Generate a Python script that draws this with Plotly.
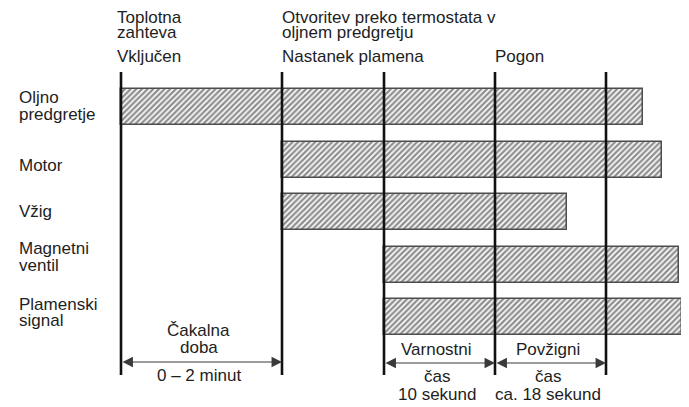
import plotly.graph_objects as go

# ---------------- data ----------------
categories = ["Oljno predgretje", "Motor", "Vžig", "Magnetni ventil", "Plamenski signal"]
category_labels = [["Oljno", "predgretje"], ["Motor"], ["Vžig"], ["Magnetni", "ventil"], ["Plamenski", "signal"]]
# schematic time units (no numeric axis in the original)
event_times = [0, 161, 263, 374, 485]
bar_start = [0, 161, 161, 263, 263]
bar_end = [522, 541, 446, 558, 561]
top_labels = [
    (["Toplotna", "zahteva", "Vključen"], 0),
    (["Otvoritev preko termostata v", "oljnem predgretju", "Nastanek plamena"], 1),
    ([None, None, "Pogon"], 3),
]
interval_labels = [
    (0, 1, ["Čakalna", "doba"], ["0 – 2 minut"]),
    (2, 3, ["Varnostni"], ["čas", "10 sekund"]),
    (3, 4, ["Povžigni"], ["čas", "ca. 18 sekund"]),
]

# ---------------- geometry helpers ----------------
W, H = 689, 407
OFF = 8           # page body margin shifts the figure by 8px
X0 = 121 - OFF    # figure pixel of time 0
ROW0, ROWSTEP = 107 - OFF, 52.6
FONT = "Liberation Sans, Arial, sans-serif"
TXT = "#1e1e1e"
FS = 17

def py(p):  # reference pixel y -> y-data (row index units)
    return (p - OFF - ROW0) / ROWSTEP

def pyp(p):  # reference pixel y -> paper
    return 1 - (p - OFF) / H

def pxp(p):  # reference pixel x -> paper
    return (p - OFF) / W

rows = list(range(len(categories)))
durations = [e - s for s, e in zip(bar_start, bar_end)]

fig = go.Figure()
fig.add_trace(go.Bar(
    y=rows, x=durations, base=bar_start, orientation="h", width=36 / ROWSTEP,
    marker=dict(color="white", line=dict(color="#4d4d4d", width=1.5),
                pattern=dict(shape="/", fgcolor="#222222", bgcolor="white", size=4, solidity=0.6)),
    hovertext=categories, hoverinfo="text",
))

shapes = []
for t in event_times:
    shapes.append(dict(type="line", xref="x", yref="y", x0=t, x1=t, y0=py(72), y1=py(375),
                       line=dict(color="#111", width=2.6)))

ann = []
def text(t, x, y, xanchor="left"):
    ann.append(dict(text=t, xref="paper", yref="paper", x=pxp(x), y=pyp(y), xanchor=xanchor,
                    yanchor="middle", showarrow=False, font=dict(family=FONT, size=FS, color=TXT)))

# top labels (baselines 23, 38, 63)
baselines_top = [23, 38, 63]
left_offsets = {0: -6, 1: -2, 3: -2}
for lines, ev in top_labels:
    for ln, b in zip(lines, baselines_top):
        if ln:
            text(ln, 121 + event_times[ev] + left_offsets[ev], b - 6)

# left category labels
label_baselines = [[104, 120], [171], [217], [254, 271], [310, 326]]
for lines, bls in zip(category_labels, label_baselines):
    for ln, b in zip(lines, bls):
        text(ln, 17, b - 6)

# bottom intervals
for i, (a, b, above, below) in enumerate(interval_labels):
    xa, xb = event_times[a], event_times[b]
    cx = 121 + (xa + xb) / 2 - 3
    arrow_y = 362 if i == 0 else 363
    ann.append(dict(text="", xref="x", yref="y", axref="x", ayref="y",
                    x=xb, y=py(arrow_y), ax=xa, ay=py(arrow_y), showarrow=True,
                    arrowhead=2, arrowside="end+start", arrowsize=1.9, arrowwidth=1.1,
                    arrowcolor="#3a3a3a", standoff=0, startstandoff=0))
    if i == 0:
        above_bl, below_bl = [336, 353], [381]
    else:
        above_bl, below_bl = [355], [382, 400]
    for ln, bl in zip(above, above_bl):
        text(ln, cx, bl - 6, "center")
    for ln, bl in zip(below, below_bl):
        text(ln, cx, bl - 6, "center")

fig.update_layout(
    width=W, height=H, margin=dict(l=0, r=0, t=0, b=0),
    paper_bgcolor="white", plot_bgcolor="white", showlegend=False,
    xaxis=dict(visible=False, range=[-X0, W - X0]),
    yaxis=dict(visible=False, range=[(H - ROW0) / ROWSTEP, -ROW0 / ROWSTEP]),
    shapes=shapes, annotations=ann, bargap=0,
)
fig.write_html("out.html")
